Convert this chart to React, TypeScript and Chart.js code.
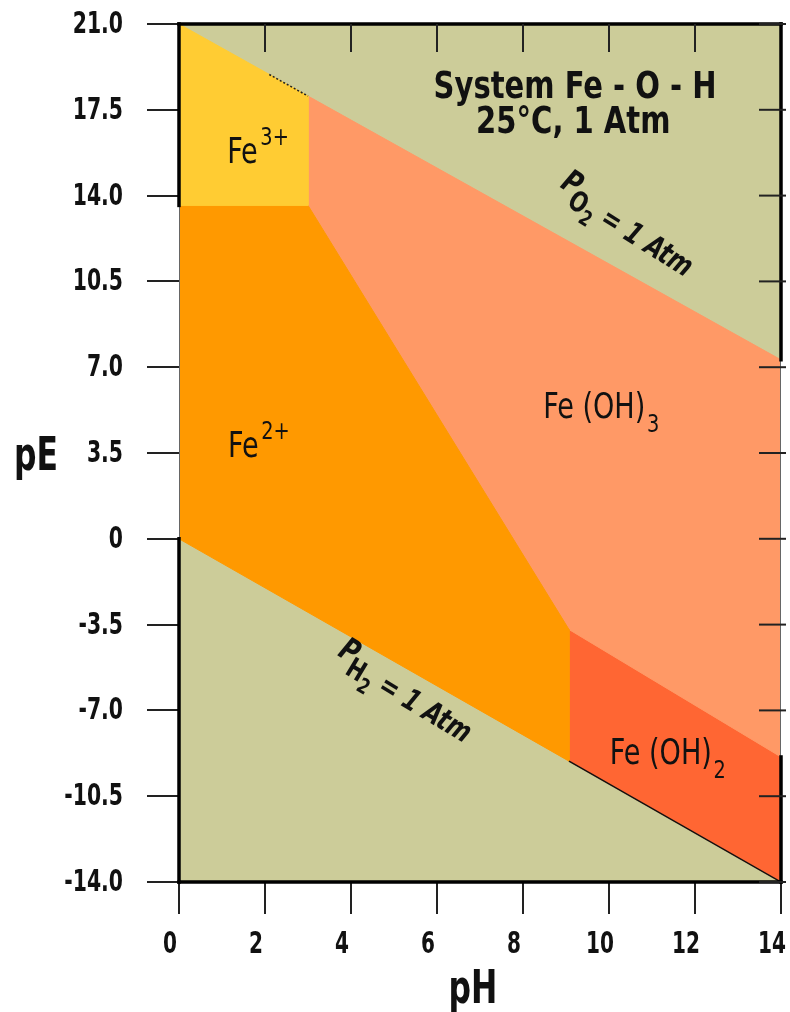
import React, { useEffect, useRef } from 'react';
import { Chart, registerables } from 'chart.js';

Chart.register(...registerables);

// ---------- data ----------
const phTicks = [0, 2, 4, 6, 8, 10, 12, 14];
const phTickLabels = ['0', '2', '4', '6', '8', '10', '12', '14'];
const peTicks = [21, 17.5, 14, 10.5, 7, 3.5, 0, -3.5, -7, -10.5, -14];
const peTickLabels = ['21.0', '17.5', '14.0', '10.5', '7.0', '3.5', '0', '-3.5', '-7.0', '-10.5', '-14.0'];

// stability field polygons (pH, pE)
const fe3pH = [0, 3, 3, 0];
const fe3pE = [21.0, 18.06, 13.6, 13.6];
const fe2pH = [0, 3, 9.07, 9.07, 0];
const fe2pE = [13.6, 13.6, -3.7, -9.07, 0];
const feOH3pH = [3, 14, 14, 9.07, 3];
const feOH3pE = [18.06, 7.3, -8.9, -3.7, 13.6];
const feOH2pH = [9.07, 14, 14, 9.07];
const feOH2pE = [-3.7, -8.9, -14, -9.07];

// water stability lines
const h2LinePH = [9.07, 14];
const h2LinePE = [-9.07, -14];
const o2DotPH = [2.1, 3];
const o2DotPE = [18.94, 18.06];

const FONT = "'Liberation Sans Narrow', 'DejaVu Sans Condensed', 'Arial Narrow', sans-serif";

const COLORS = {
  bg: '#CCCC99',
  fe3: '#FFCC33',
  fe2: '#FF9900',
  feOH3: '#FF9966',
  feOH2: '#FF6633',
};

type Part = { t: string; size: number; dy?: number; dx?: number; bold?: boolean; italic?: boolean };

const toPts = (xs: number[], ys: number[]) => xs.map((x, i) => ({ x, y: ys[i] }));
const closePts = (xs: number[], ys: number[]) => {
  const p = toPts(xs, ys);
  return [...p, p[0]];
};

const fontStr = (p: Part) => `${p.italic ? 'italic ' : ''}${p.bold ? 'bold ' : ''}${p.size}px ${FONT}`;

function drawParts(
  ctx: CanvasRenderingContext2D,
  x: number,
  y: number,
  parts: Part[],
  align: 'left' | 'center',
  sx: number
) {
  ctx.save();
  ctx.translate(x, y);
  ctx.scale(sx, 1);
  ctx.textAlign = 'left';
  ctx.textBaseline = 'alphabetic';
  ctx.fillStyle = '#111';
  const widths = parts.map((p) => {
    ctx.font = fontStr(p);
    return ctx.measureText(p.t).width;
  });
  const total = widths.reduce((a, w, i) => a + w + (parts[i].dx || 0), 0);
  let cx = align === 'center' ? -total / 2 : 0;
  parts.forEach((p, i) => {
    ctx.font = fontStr(p);
    cx += p.dx || 0;
    ctx.fillText(p.t, cx, p.dy || 0);
    cx += widths[i];
  });
  ctx.restore();
}

function drawText(
  ctx: CanvasRenderingContext2D,
  t: string,
  x: number,
  y: number,
  font: string,
  align: CanvasTextAlign,
  baseline: CanvasTextBaseline,
  sx: number
) {
  ctx.save();
  ctx.translate(x, y);
  ctx.scale(sx, 1);
  ctx.font = font;
  ctx.fillStyle = '#111';
  ctx.textAlign = align;
  ctx.textBaseline = baseline;
  ctx.fillText(t, 0, 0);
  ctx.restore();
}

// annotation layout (positions in data units)
const regionLabels: { pH: number; pE: number; parts: Part[] }[] = [
  { pH: 1.12, pE: 15.33, parts: [{ t: 'Fe', size: 35 }, { t: '3+', size: 25, dy: -18, dx: 3 }] },
  { pH: 1.14, pE: 3.34, parts: [{ t: 'Fe', size: 35 }, { t: '2+', size: 25, dy: -18, dx: 3 }] },
  { pH: 8.47, pE: 4.93, parts: [{ t: 'Fe (OH)', size: 35 }, { t: '3', size: 25, dy: 14, dx: 2 }] },
  { pH: 10.02, pE: -9.19, parts: [{ t: 'Fe (OH)', size: 35 }, { t: '2', size: 25, dy: 14, dx: 2 }] },
];

const titleLines: { pH: number; pE: number; parts: Part[] }[] = [
  { pH: 9.21, pE: 17.98, parts: [{ t: 'System Fe - O - H', size: 38, bold: true }] },
  { pH: 9.17, pE: 16.55, parts: [{ t: '25°C, 1 Atm', size: 38, bold: true }] },
];

const slantLabels: { pH: number; pE: number; angle: number; parts: Part[] }[] = [
  {
    pH: 10.37, pE: 12.68, angle: 32,
    parts: [
      { t: 'P', size: 32, bold: true, italic: true, dy: -10 },
      { t: 'O', size: 28, bold: true, dy: 2, dx: -3 },
      { t: '2', size: 21, bold: true, dy: 10 },
      { t: ' = 1 Atm', size: 30, bold: true, italic: true },
    ],
  },
  {
    pH: 5.21, pE: -6.37, angle: 31,
    parts: [
      { t: 'P', size: 32, bold: true, italic: true, dy: -10 },
      { t: 'H', size: 28, bold: true, dy: 2, dx: -3 },
      { t: '2', size: 21, bold: true, dy: 10 },
      { t: ' = 1 Atm', size: 30, bold: true, italic: true },
    ],
  },
];

const decorPlugin = {
  id: 'decor',
  beforeDraw(chart: any) {
    const { ctx, chartArea: a } = chart;
    ctx.save();
    ctx.fillStyle = '#fff';
    ctx.fillRect(0, 0, chart.width, chart.height);
    ctx.fillStyle = COLORS.bg;
    ctx.fillRect(a.left, a.top, a.right - a.left, a.bottom - a.top);
    ctx.restore();
  },
  afterDatasetsDraw(chart: any) {
    const { ctx, chartArea: a, scales } = chart;
    const xs = scales.x;
    const ys = scales.y;
    ctx.save();
    // thin full frame
    ctx.strokeStyle = '#666';
    ctx.lineWidth = 1;
    ctx.strokeRect(a.left + 0.5, a.top + 0.5, a.right - a.left - 1, a.bottom - a.top - 1);
    // thick black edges
    ctx.strokeStyle = '#000';
    ctx.lineWidth = 3.5;
    ctx.lineCap = 'square';
    const seg = (x1: number, y1: number, x2: number, y2: number) => {
      ctx.beginPath();
      ctx.moveTo(x1, y1);
      ctx.lineTo(x2, y2);
      ctx.stroke();
    };
    seg(a.left, a.top, a.right, a.top);
    seg(a.left, a.bottom, a.right, a.bottom);
    seg(a.left, ys.getPixelForValue(21), a.left, ys.getPixelForValue(fe3pE[3]));
    seg(a.left, ys.getPixelForValue(fe2pE[4]), a.left, ys.getPixelForValue(-14));
    seg(a.right, ys.getPixelForValue(21), a.right, ys.getPixelForValue(feOH3pE[1]));
    seg(a.right, ys.getPixelForValue(feOH3pE[2]), a.right, ys.getPixelForValue(-14));
    // inward ticks top & right
    ctx.strokeStyle = '#222';
    ctx.lineWidth = 2;
    ctx.lineCap = 'butt';
    phTicks.forEach((v) => {
      if (v === 0 || v === 14) return;
      const px = xs.getPixelForValue(v);
      seg(px, a.top, px, a.top + 28);
    });
    peTicks.forEach((v) => {
      const py = ys.getPixelForValue(v);
      seg(a.right - 22, py, a.right + 5, py);
    });
    ctx.restore();

    // texts
    regionLabels.forEach((l) => {
      drawParts(ctx, xs.getPixelForValue(l.pH), ys.getPixelForValue(l.pE), l.parts, 'left', 0.86);
    });
    titleLines.forEach((l) => {
      drawParts(ctx, xs.getPixelForValue(l.pH), ys.getPixelForValue(l.pE), l.parts, 'center', 0.85);
    });
    slantLabels.forEach((l) => {
      ctx.save();
      ctx.translate(xs.getPixelForValue(l.pH), ys.getPixelForValue(l.pE));
      ctx.rotate((l.angle * Math.PI) / 180);
      drawParts(ctx, 0, 10, l.parts, 'center', 0.85);
      ctx.restore();
    });
  },
  afterDraw(chart: any) {
    const { ctx, chartArea: a, scales } = chart;
    const xs = scales.x;
    const ys = scales.y;
    const tickFont = `bold 31px ${FONT}`;
    // tick labels
    peTicks.forEach((v, i) => {
      drawText(ctx, peTickLabels[i], a.left - 56, ys.getPixelForValue(v) + 1, tickFont, 'right', 'middle', 0.73);
    });
    phTicks.forEach((v, i) => {
      drawText(ctx, phTickLabels[i], xs.getPixelForValue(v) - 9, a.bottom + 63, tickFont, 'center', 'middle', 0.72);
    });
    // axis titles
    const titleFont = `bold 46px ${FONT}`;
    drawText(ctx, 'pE', 36, 470, titleFont, 'center', 'alphabetic', 0.76);
    drawText(ctx, 'pH', (a.left + a.right) / 2 - 7, 1003, titleFont, 'center', 'alphabetic', 0.76);
  },
};

export default function App() {
  const ref = useRef<HTMLCanvasElement>(null);

  useEffect(() => {
    if (!ref.current) return;
    const poly = (xs: number[], ys: number[], color: string) => ({
      data: closePts(xs, ys),
      showLine: true,
      fill: 'shape',
      backgroundColor: color,
      borderColor: color,
      borderWidth: 1,
      pointRadius: 0,
      tension: 0,
    });
    const chart = new Chart(ref.current, {
      type: 'scatter',
      data: {
        datasets: [
          {
            data: toPts(h2LinePH, h2LinePE),
            showLine: true,
            fill: false,
            borderColor: '#111',
            borderWidth: 1.5,
            pointRadius: 0,
          } as any,
          {
            data: toPts(o2DotPH, o2DotPE),
            showLine: true,
            fill: false,
            borderColor: '#222',
            borderWidth: 1.5,
            borderDash: [2, 2],
            pointRadius: 0,
          } as any,
          poly(fe3pH, fe3pE, COLORS.fe3) as any,
          poly(fe2pH, fe2pE, COLORS.fe2) as any,
          poly(feOH3pH, feOH3pE, COLORS.feOH3) as any,
          poly(feOH2pH, feOH2pE, COLORS.feOH2) as any,
        ],
      },
      options: {
        animation: false,
        responsive: false,
        maintainAspectRatio: false,
        events: [],
        layout: { padding: { top: 24, right: 9, left: 0, bottom: 0 } },
        plugins: { legend: { display: false }, tooltip: { enabled: false }, title: { display: false } },
        scales: {
          x: {
            type: 'linear',
            position: 'bottom',
            min: 0,
            max: 14,
            afterBuildTicks: (s: any) => {
              s.ticks = phTicks.map((v) => ({ value: v }));
            },
            afterFit: (s: any) => {
              s.height = 130;
              s.paddingLeft = 0;
              s.paddingRight = 0;
            },
            grid: { display: true, drawOnChartArea: false, drawTicks: true, tickLength: 32, color: '#222', lineWidth: 2 },
            border: { display: false },
            ticks: { display: false, autoSkip: false },
          },
          y: {
            type: 'linear',
            position: 'left',
            min: -14,
            max: 21,
            afterBuildTicks: (s: any) => {
              s.ticks = peTicks.map((v) => ({ value: v }));
            },
            afterFit: (s: any) => {
              s.width = 179;
              s.paddingTop = 0;
              s.paddingBottom = 0;
            },
            grid: { display: true, drawOnChartArea: false, drawTicks: true, tickLength: 32, color: '#222', lineWidth: 2 },
            border: { display: false },
            ticks: { display: false, autoSkip: false },
          },
        },
      },
      plugins: [decorPlugin],
    } as any);
    return () => chart.destroy();
  }, []);

  return (
    <div style={{ position: 'absolute', left: 0, top: 0, width: 790, height: 1012, background: '#fff' }}>
      <canvas ref={ref} width={790} height={1012} />
    </div>
  );
}
